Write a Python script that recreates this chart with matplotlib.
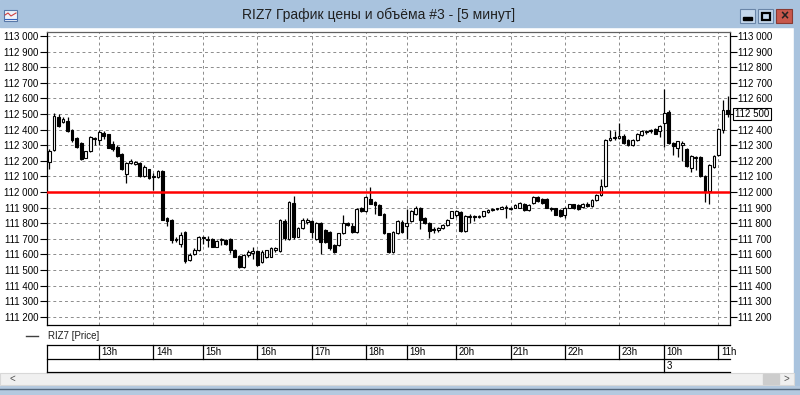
import matplotlib
matplotlib.use('Agg')
import matplotlib.pyplot as plt
from matplotlib.patches import Rectangle
from matplotlib.ticker import FuncFormatter

plt.rcParams['font.family'] = ['Liberation Sans', 'DejaVu Sans']

# 5-minute bars: (hour, first minute, last minute) per hour block
segments = [(12, 5, 55), (13, 0, 55), (14, 5, 55), (15, 0, 55), (16, 0, 55),
            (17, 0, 55), (18, 0, 40), (19, 5, 55), (20, 0, 55), (21, 0, 55),
            (22, 0, 55), (23, 0, 45), (10, 0, 55), (11, 0, 10)]
times = [f"{h}:{m:02d}" for h, a, b in segments for m in range(a, b + 1, 5)]

opens = [112195, 112272, 112480, 112450, 112455, 112400, 112345, 112315, 112220, 112262,
         112340, 112336, 112380, 112370, 112305, 112290, 112245, 112115, 112190, 112180,
         112185, 112100, 112145, 112095, 112095, 112133, 111835, 111820, 111700, 111665,
         111746, 111564, 111605, 111628, 111705, 111700, 111700, 111650, 111690, 111695,
         111697, 111628, 111590, 111516, 111595, 111610, 111624, 111553, 111580, 111585,
         111625, 111620, 111817, 111697, 111930, 111714, 111768, 111805, 111811, 111697,
         111800, 111757, 111746, 111660, 111660, 111735, 111800, 111783, 111746, 111897,
         111875, 111955, 111935, 111918, 111858, 111735, 111617, 111738, 111810, 111780,
         111813, 111862, 111898, 111834, 111802, 111760, 111755, 111770, 111790, 111834,
         111850, 111870, 111749, 111840, 111845, 111840, 111845, 111870, 111885, 111890,
         111892, 111903, 111895, 111898, 111898, 111925, 111885, 111930, 111968, 111955,
         111955, 111898, 111897, 111885, 111850, 111900, 111920, 111915, 111905, 111925,
         111908, 111951, 111983, 112036, 112335, 112345, 112350, 112362, 112334, 112302,
         112334, 112366, 112385, 112388, 112405, 112388, 112442, 112516, 112314, 112282,
         112300, 112277, 112153, 112220, 112223, 112104, 112004, 112160, 112234, 112400,
         112523]
highs = [112275, 112505, 112500, 112480, 112480, 112405, 112350, 112320, 112265, 112360,
         112355, 112395, 112390, 112375, 112330, 112300, 112250, 112190, 112210, 112200,
         112190, 112170, 112150, 112120, 112140, 112140, 111840, 111825, 111710, 111745,
         111750, 111610, 111640, 111720, 111720, 111715, 111705, 111690, 111705, 111700,
         111705, 111635, 111595, 111605, 111630, 111650, 111630, 111625, 111630, 111645,
         111650, 111825, 111825, 111940, 111976, 111775, 111830, 111830, 111820, 111810,
         111805, 111765, 111750, 111665, 111740, 111855, 111810, 111800, 111895, 111905,
         111975, 112032, 111945, 111925, 111865, 111740, 111750, 111820, 111820, 111890,
         111885, 111910, 111905, 111840, 111808, 111775, 111775, 111795, 111825, 111880,
         111885, 111878, 111850, 111860, 111855, 111850, 111880, 111890, 111895, 111900,
         111910, 111915, 111905, 111920, 111935, 111930, 111920, 111972, 111975, 111960,
         111960, 111905, 111900, 111890, 111905, 111925, 111925, 111920, 111930, 111935,
         111955, 111985, 112085, 112340, 112400, 112390, 112440, 112370, 112340, 112340,
         112378, 112400, 112395, 112405, 112410, 112430, 112660, 112525, 112320, 112330,
         112325, 112285, 112235, 112230, 112228, 112110, 112180, 112235, 112410, 112590,
         112615]
lows = [112150, 112265, 112415, 112440, 112385, 112320, 112285, 112205, 112215, 112255,
        112300, 112300, 112340, 112280, 112265, 112225, 112140, 112055, 112180, 112170,
        112095, 112095, 112085, 112010, 112090, 111820, 111780, 111675, 111680, 111650,
        111545, 111560, 111595, 111620, 111665, 111650, 111645, 111645, 111660, 111660,
        111610, 111580, 111515, 111510, 111580, 111570, 111525, 111545, 111575, 111580,
        111615, 111615, 111695, 111690, 111700, 111710, 111760, 111795, 111705, 111690,
        111602, 111670, 111630, 111610, 111655, 111730, 111780, 111740, 111740, 111870,
        111870, 111920, 111860, 111850, 111730, 111610, 111610, 111730, 111735, 111700,
        111805, 111855, 111760, 111795, 111705, 111740, 111745, 111765, 111785, 111830,
        111840, 111745, 111745, 111800, 111815, 111830, 111840, 111865, 111880, 111885,
        111888, 111835, 111885, 111895, 111895, 111880, 111880, 111925, 111935, 111925,
        111895, 111880, 111850, 111840, 111830, 111895, 111890, 111885, 111900, 111905,
        111905, 111945, 111975, 112030, 112330, 112335, 112340, 112310, 112298, 112298,
        112330, 112362, 112375, 112380, 112370, 112355, 112290, 112310, 112235, 112225,
        112200, 112160, 112130, 112140, 112095, 111934, 111925, 112155, 112230, 112380,
        112480]
closes = [112260, 112486, 112425, 112470, 112390, 112335, 112290, 112210, 112260, 112355,
          112345, 112386, 112360, 112285, 112275, 112230, 112145, 112185, 112195, 112195,
          112100, 112160, 112090, 112100, 112133, 111822, 111815, 111693, 111690, 111725,
          111555, 111596, 111630, 111714, 111710, 111695, 111650, 111683, 111695, 111665,
          111628, 111585, 111520, 111596, 111615, 111620, 111531, 111617, 111625, 111640,
          111640, 111820, 111703, 111933, 111710, 111768, 111821, 111821, 111746, 111804,
          111680, 111682, 111640, 111617, 111735, 111800, 111788, 111746, 111890, 111875,
          111968, 111925, 111915, 111854, 111735, 111617, 111746, 111813, 111745, 111800,
          111877, 111898, 111823, 111802, 111749, 111755, 111770, 111790, 111820, 111877,
          111877, 111749, 111845, 111845, 111840, 111845, 111877, 111885, 111890, 111895,
          111905, 111900, 111898, 111915, 111930, 111885, 111915, 111968, 111940, 111930,
          111898, 111888, 111854, 111845, 111895, 111920, 111895, 111890, 111925, 111910,
          111951, 111983, 112036, 112334, 112345, 112352, 112355, 112313, 112302, 112334,
          112372, 112394, 112390, 112395, 112375, 112420, 112506, 112314, 112293, 112325,
          112315, 112164, 112228, 112225, 112100, 112004, 112175, 112228, 112404, 112523,
          112500]

level = 112000
day_label = '3'
price_ticks = list(range(111200, 113001, 100))


def fmt_price(v, pos=None):
    return f"{int(round(v)):,}".replace(',', ' ')


x = list(range(len(times)))
hour_idx = [i for i in range(1, len(times)) if times[i].split(':')[0] != times[i - 1].split(':')[0]]
hour_lbl = [times[i].split(':')[0] + 'h' for i in hour_idx]
day_idx = [i for i in hour_idx if int(times[i].split(':')[0]) < int(times[i - 1].split(':')[0])]

fig = plt.figure(figsize=(8, 3.95), dpi=100, facecolor='white')

# window chrome, pixel coordinates
bg = fig.add_axes([0, 0, 1, 1], zorder=0)
bg.set_xlim(0, 800)
bg.set_ylim(395, 0)
bg.axis('off')
blue = '#a9c3de'
bg.add_patch(Rectangle((0, 0), 800, 27, color=blue))
bg.add_patch(Rectangle((794, 0), 6, 395, color=blue))
bg.add_patch(Rectangle((0, 386), 800, 9, color='#b4c9df'))
bg.plot([0, 800], [389, 389], color='#56697f', lw=1)
bg.add_patch(Rectangle((0, 373), 794, 12, facecolor='#f0f0f0', edgecolor='#d8d8d8', lw=0.8))
bg.add_patch(Rectangle((763, 374), 16, 10, color='#cdcdcd'))
bg.text(10, 379, '<', fontsize=7, va='center', color='#505050')
bg.text(784, 379, '>', fontsize=7, va='center', color='#505050')
# icon
bg.add_patch(Rectangle((4, 10), 13, 11, facecolor='#eef3fa', edgecolor='#5878a8', lw=0.8))
bg.plot([5, 8, 11, 16], [15, 13, 16, 13], color='#d04040', lw=0.8)
bg.plot([5, 16], [19, 19], color='#3060c0', lw=0.8)
# buttons
for bx in (740, 758):
    bg.add_patch(Rectangle((bx, 9), 15, 14, facecolor='#c5d8ec', edgecolor='#6a86a8', lw=0.8))
bg.add_patch(Rectangle((743, 17), 9, 3, color='black'))
bg.add_patch(Rectangle((761.5, 12.5), 8, 7, facecolor='none', edgecolor='black', lw=1.6))
bg.add_patch(Rectangle((776, 9), 16, 14, facecolor='#c8584c', edgecolor='#8a3a32', lw=0.8))
bg.text(784, 16, '×', fontsize=10, fontweight='bold', ha='center', va='center', color='#222222')
bg.text(379, 15, 'RIZ7 График цены и объёма #3 - [5 минут]', fontsize=10,
        ha='center', va='center', color='#202020')
# legend
bg.plot([26, 38], [336, 336], color='#404040', lw=1)
bg.text(48, 336, 'RIZ7 [Price]', fontsize=7, va='center', color='#202020')

# price chart
ax = fig.add_axes([47 / 800, 70 / 395, 683 / 800, 293 / 395], zorder=2)
ax.set_facecolor('white')
ax.set_xlim(-0.55, len(times) - 0.45)
ax.set_ylim(111147, 113026)

bottoms = []
heights = []
for o, c in zip(opens, closes):
    h = abs(c - o)
    if h < 7:
        bottoms.append((o + c) / 2 - 3.5)
        heights.append(7)
    else:
        bottoms.append(min(o, c))
        heights.append(h)
faces = ['white' if c >= o else 'black' for o, c in zip(opens, closes)]

ax.vlines(x, lows, highs, color='black', lw=0.9, zorder=3)
ax.bar(x, heights, bottom=bottoms, width=0.62, color=faces, edgecolor='black',
       linewidth=0.8, zorder=4)
ax.axhline(level, color='#ff0000', lw=1.8, zorder=5)

ax.set_yticks(price_ticks)
ax.yaxis.set_major_formatter(FuncFormatter(fmt_price))
ax.set_xticks(hour_idx)
ax.grid(True, color='#8c8c8c', linestyle=(0, (3, 3)), lw=0.7, zorder=1)
ax.tick_params(axis='x', length=0, labelbottom=False)
ax.tick_params(axis='y', direction='out', length=5, width=0.8, left=True, right=True,
               labelleft=True, labelright=True, labelsize=7, pad=1)
for s in ('left', 'right', 'bottom'):
    ax.spines[s].set_color('black')
ax.spines['top'].set_color('#606060')
for s in ax.spines.values():
    s.set_linewidth(0.9)

# last price box replaces the right-hand tick label at that level
for t, v in zip(ax.yaxis.get_major_ticks(), price_ticks):
    if v == closes[-1]:
        t.label2.set_visible(False)
ax.annotate(fmt_price(closes[-1]), xy=(1, closes[-1]), xycoords=('axes fraction', 'data'),
            xytext=(3.5, 0), textcoords='offset points', fontsize=7, va='center', ha='left',
            bbox=dict(boxstyle='square,pad=0.15', facecolor='white', edgecolor='black', lw=0.8),
            annotation_clip=False, zorder=10)

# time table
tb = fig.add_axes([47 / 800, 23 / 395, 683 / 800, 27 / 395], zorder=2)
tb.set_xlim(ax.get_xlim())
tb.set_ylim(2, 0)
tb.axis('off')
x0, x1 = ax.get_xlim()
for yy in (0, 1, 2):
    tb.plot([x0, x1], [yy, yy], color='black', lw=0.9, clip_on=False)
tb.plot([x0, x0], [0, 2], color='black', lw=0.9, clip_on=False)
for i, lbl in zip(hour_idx, hour_lbl):
    tb.plot([i, i], [0, 1], color='black', lw=0.9, clip_on=False)
    tb.text(i + 0.55, 0.52, lbl, fontsize=7, va='center', ha='left', clip_on=False)
for i in day_idx:
    tb.plot([i, i], [1, 2], color='black', lw=0.9, clip_on=False)
    tb.text(i + 0.55, 1.52, day_label, fontsize=7, va='center', ha='left', clip_on=False)

fig.savefig('out.png', dpi=100)
